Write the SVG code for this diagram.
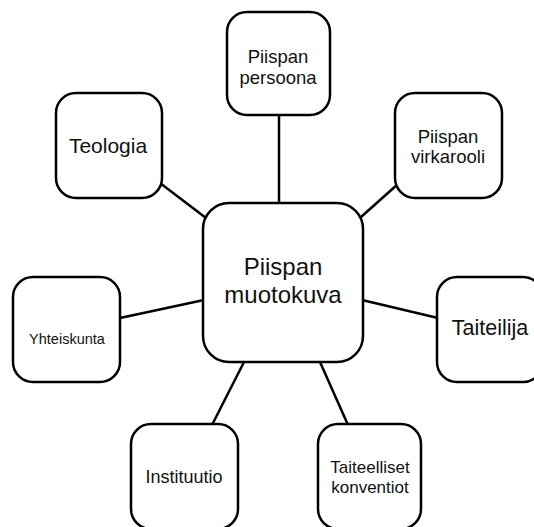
<svg xmlns="http://www.w3.org/2000/svg" width="534" height="527" viewBox="0 0 534 527">
<style>
.box{fill:#fff;stroke:#000;stroke-width:2.5}
.line{stroke:#000;stroke-width:2.5;fill:none}
text{font-family:"Liberation Sans",Arial,sans-serif;fill:#111;text-anchor:middle}
</style>
<rect width="534" height="527" fill="#fff"/>
<g id="connectors">
<line class="line" x1="279" y1="115" x2="279" y2="204"/>
<line class="line" x1="160" y1="183" x2="206" y2="218"/>
<line class="line" x1="398" y1="184" x2="361" y2="217"/>
<line class="line" x1="120" y1="318" x2="204" y2="300"/>
<line class="line" x1="362" y1="300" x2="438" y2="318"/>
<line class="line" x1="244" y1="362" x2="212" y2="425"/>
<line class="line" x1="320" y1="362" x2="348" y2="425"/>
</g>
<g id="center">
<rect class="box" x="203" y="203" width="160" height="159" rx="26"/>
<text x="283" y="275" font-size="24">Piispan</text>
<text x="283" y="303" font-size="24">muotokuva</text>
</g>
<g id="persoona">
<rect class="box" x="227" y="12" width="103" height="103" rx="20"/>
<text x="278" y="63" font-size="18.5">Piispan</text>
<text x="278" y="84" font-size="18.5">persoona</text>
</g>
<g id="teologia">
<rect class="box" x="56" y="93" width="106" height="105" rx="20"/>
<text x="108" y="153" font-size="21">Teologia</text>
</g>
<g id="virkarooli">
<rect class="box" x="395" y="93" width="107" height="105" rx="20"/>
<text x="448" y="143" font-size="18.5">Piispan</text>
<text x="448" y="163" font-size="18.5">virkarooli</text>
</g>
<g id="yhteiskunta">
<rect class="box" x="13" y="277" width="107" height="105" rx="20"/>
<text x="67" y="344" font-size="14.5">Yhteiskunta</text>
</g>
<g id="taiteilija">
<rect class="box" x="437" y="277" width="106" height="105" rx="20"/>
<text x="490" y="335" font-size="21.5">Taiteilija</text>
</g>
<g id="instituutio">
<rect class="box" x="131" y="424" width="107" height="105" rx="20"/>
<text x="184" y="483" font-size="18">Instituutio</text>
</g>
<g id="konventiot">
<rect class="box" x="318" y="424" width="103" height="105" rx="20"/>
<text x="370" y="473" font-size="17">Taiteelliset</text>
<text x="370" y="493" font-size="17">konventiot</text>
</g>
</svg>
